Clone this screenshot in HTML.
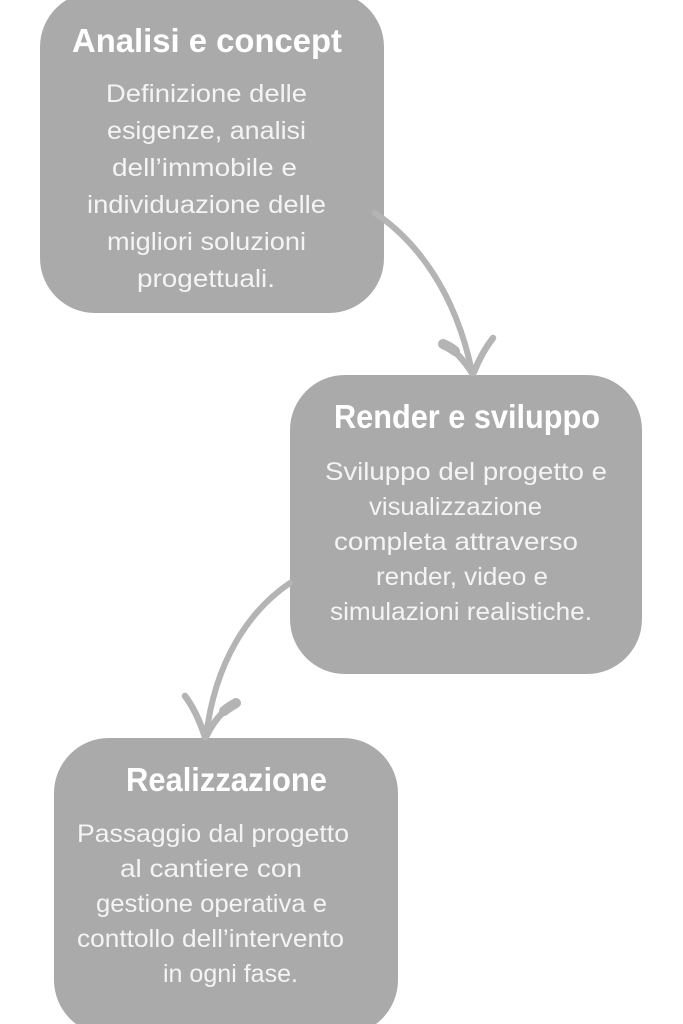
<!DOCTYPE html>
<html>
<head>
<meta charset="utf-8">
<style>
  html, body { margin: 0; padding: 0; background: #ffffff; }
  body { width: 683px; height: 1024px; overflow: hidden; }
  svg { display: block; }
  .t { font-family: "Liberation Sans", "DejaVu Sans", sans-serif; font-weight: bold; font-size: 33px; fill: #ffffff; }
  .b { font-family: "Liberation Sans", "DejaVu Sans", sans-serif; font-weight: normal; font-size: 25px; fill: #f4f4f4; }
</style>
</head>
<body>
<svg width="683" height="1024" viewBox="0 0 683 1024" xmlns="http://www.w3.org/2000/svg">
  <rect x="0" y="0" width="683" height="1024" fill="#ffffff"/>

  <!-- Boxes -->
  <rect x="40" y="-8" width="344" height="321" rx="55" ry="55" fill="#aaaaaa"/>
  <rect x="290" y="375" width="352" height="299" rx="55" ry="55" fill="#aaaaaa"/>
  <rect x="54" y="738" width="344" height="297" rx="55" ry="55" fill="#aaaaaa"/>

  <!-- Arrow 1 -->
  <g fill="none" stroke="#b4b4b4" stroke-linecap="round" stroke-linejoin="round">
    <path d="M375,213 C415,240 455,290 472,372" stroke-width="6"/>
    <path d="M443,344 Q459,352 472,373" stroke-width="6.5"/>
    <path d="M443,344 Q450,347 455,351" stroke-width="10"/>
    <path d="M493,338 Q482,352 474,372" stroke-width="6.5"/>
  </g>

  <!-- Arrow 2 -->
  <g fill="none" stroke="#b4b4b4" stroke-linecap="round" stroke-linejoin="round">
    <path d="M290,583 C250,610 215,660 206,737" stroke-width="6"/>
    <path d="M185,696 Q197,712 205,737" stroke-width="6.5"/>
    <path d="M236,703 Q218,712 206,737" stroke-width="6.5"/>
    <path d="M236,703 Q229,707 224,711" stroke-width="10"/>
  </g>

  <!-- Box 1 text -->
  <text class="t" x="72" y="52" textLength="270" lengthAdjust="spacingAndGlyphs">Analisi e concept</text>
  <text class="b" x="106" y="102" textLength="201" lengthAdjust="spacingAndGlyphs">Definizione delle</text>
  <text class="b" x="107" y="139" textLength="199" lengthAdjust="spacingAndGlyphs">esigenze, analisi</text>
  <text class="b" x="112" y="176" textLength="185" lengthAdjust="spacingAndGlyphs">dell’immobile e</text>
  <text class="b" x="87" y="213" textLength="239" lengthAdjust="spacingAndGlyphs">individuazione delle</text>
  <text class="b" x="107" y="250" textLength="199" lengthAdjust="spacingAndGlyphs">migliori soluzioni</text>
  <text class="b" x="137" y="287" textLength="138" lengthAdjust="spacingAndGlyphs">progettuali.</text>

  <!-- Box 2 text -->
  <text class="t" x="334" y="428" textLength="266" lengthAdjust="spacingAndGlyphs">Render e sviluppo</text>
  <text class="b" x="325" y="480" textLength="282" lengthAdjust="spacingAndGlyphs">Sviluppo del progetto e</text>
  <text class="b" x="369" y="515" textLength="173" lengthAdjust="spacingAndGlyphs">visualizzazione</text>
  <text class="b" x="334" y="550" textLength="244" lengthAdjust="spacingAndGlyphs">completa attraverso</text>
  <text class="b" x="376" y="585" textLength="172" lengthAdjust="spacingAndGlyphs">render, video e</text>
  <text class="b" x="330" y="620" textLength="262" lengthAdjust="spacingAndGlyphs">simulazioni realistiche.</text>

  <!-- Box 3 text -->
  <text class="t" x="126" y="791" textLength="201" lengthAdjust="spacingAndGlyphs">Realizzazione</text>
  <text class="b" x="77" y="842" textLength="272" lengthAdjust="spacingAndGlyphs">Passaggio dal progetto</text>
  <text class="b" x="120" y="877" textLength="182" lengthAdjust="spacingAndGlyphs">al cantiere con</text>
  <text class="b" x="96" y="912" textLength="231" lengthAdjust="spacingAndGlyphs">gestione operativa e</text>
  <text class="b" x="77" y="947" textLength="267" lengthAdjust="spacingAndGlyphs">conttollo dell’intervento</text>
  <text class="b" x="163" y="982" textLength="135" lengthAdjust="spacingAndGlyphs">in ogni fase.</text>
</svg>
</body>
</html>
